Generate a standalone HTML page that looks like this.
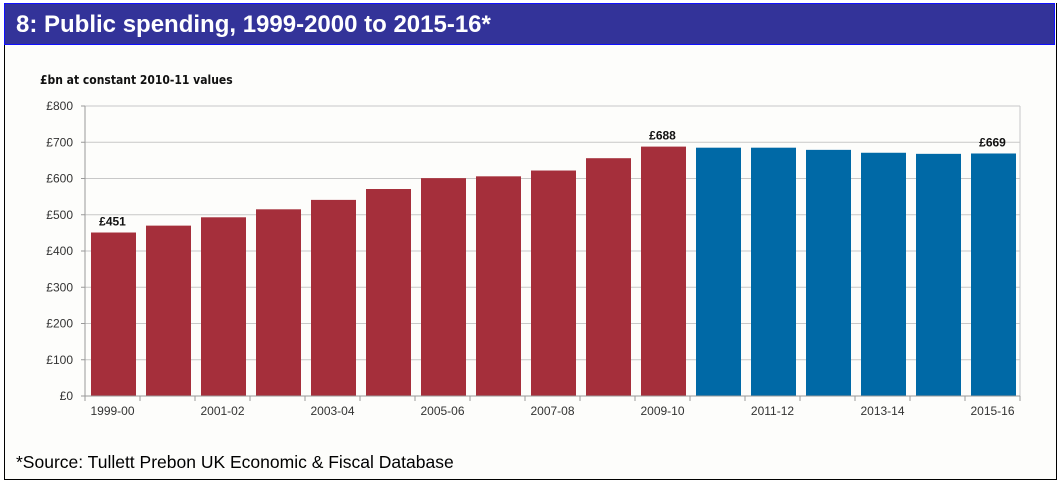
<!DOCTYPE html>
<html><head><meta charset="utf-8"><style>
body{margin:0;background:#fff;width:1062px;height:484px;overflow:hidden;font-family:"Liberation Sans",sans-serif}
#frame{position:absolute;left:4px;top:3px;width:1051px;height:476px;border:1px solid #000;border-top:none;background:#fdfdfb}
#hdr{position:absolute;left:4px;top:3px;width:1051px;height:42px;background:#333399;border:1px solid #1010ff;box-sizing:border-box;color:#fff;font-weight:bold;font-size:24px;line-height:42px;padding-left:11px}
#src{position:absolute;left:16px;top:452px;font-size:17.5px;color:#000}
svg{position:absolute;left:0;top:0}
</style></head><body>
<div id="frame"></div>
<div id="hdr">8: Public spending, 1999-2000 to 2015-16*</div>
<div id="src">*Source: Tullett Prebon UK Economic &amp; Fiscal Database</div>
<svg id="chart" width="1062" height="484"></svg>
<script>
const categories=["1999-00","2000-01","2001-02","2002-03","2003-04","2004-05","2005-06","2006-07","2007-08","2008-09","2009-10","2010-11","2011-12","2012-13","2013-14","2014-15","2015-16"];
const values=[451,470,493,515,541,571,601,606,622,656,688,685,685,679,671,668,669];
const labelled=[0,10,16];
const yTicks=[0,100,200,300,400,500,600,700,800];
const svg=document.getElementById('chart');
const NS='http://www.w3.org/2000/svg';
const L=85,R=1020,T=106,B=396,yMax=800;
const bw=(R-L)/categories.length;
const y=v=>B-(v/yMax)*(B-T);
const x=i=>L+i*bw;
function mk(t,a,txt){const e=document.createElementNS(NS,t);for(const k in a)e.setAttribute(k,a[k]);if(txt!=null)e.textContent=txt;svg.appendChild(e);return e;}
let e=mk('text',{x:40,y:84,'font-size':12,'font-weight':'bold','font-family':'"DejaVu Sans Condensed","Liberation Sans",sans-serif',fill:'#111'},'£bn at constant 2010-11 values');

yTicks.forEach(v=>{
 const g=mk('line',{x1:L,x2:R,y1:y(v),y2:y(v),stroke:'#c8c8c8','stroke-width':1});
 
 mk('line',{x1:L-4,x2:L,y1:y(v),y2:y(v),stroke:'#999'});
 const t=mk('text',{x:L-12,y:y(v)+4,'text-anchor':'end','font-size':12,fill:'#333'},'£'+v);
 
});
mk('line',{x1:L,x2:L,y1:T,y2:B,stroke:'#999'});
mk('line',{x1:R,x2:R,y1:T,y2:B,stroke:'#c8c8c8'});
categories.forEach((c,i)=>{
 const b=mk('rect',{x:x(i)+6,y:y(values[i]),width:bw-10,height:B-y(values[i]),fill:i<=10?'#a52f3b':'#0069a6'});
 
 mk('line',{x1:x(i),x2:x(i),y1:B,y2:B+5,stroke:'#999'});
 if(i%2==0){const t=mk('text',{x:x(i)+bw/2,y:B+19,'text-anchor':'middle','font-size':12,fill:'#333'},c);
 }
 if(labelled.includes(i)){const t=mk('text',{x:x(i)+bw/2,y:y(values[i])-7,'text-anchor':'middle','font-size':12,'font-weight':'bold',fill:'#111'},'£'+values[i]);
 }
});
mk('line',{x1:R,x2:R,y1:B,y2:B+5,stroke:'#999'});
mk('line',{x1:L,x2:R,y1:B,y2:B,stroke:'#999'});
</script>
</body></html>
